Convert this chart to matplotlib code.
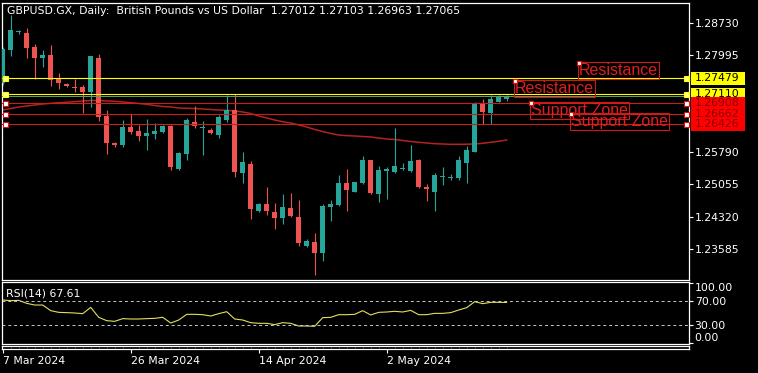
import numpy as np
import matplotlib
matplotlib.use('Agg')
import matplotlib.pyplot as plt
from matplotlib.patches import Rectangle
from matplotlib import transforms

# ---------------- data ----------------
symbol = 'GBPUSD.GX'
period = 'Daily'
description = 'British Pounds vs US Dollar'

date_labels = ['7 Mar 2024', '26 Mar 2024', '14 Apr 2024', '2 May 2024']
date_bars = [0, 16, 32, 48]

opens = [1.27367, 1.28121, 1.28532, 1.28516, 1.28196, 1.27945, 1.28007, 1.27482, 1.27345, 1.27276,
         1.27276, 1.27162, 1.27938, 1.26614, 1.25998, 1.25952, 1.26363, 1.26279, 1.26158, 1.26210,
         1.26249, 1.26386, 1.25398, 1.25747, 1.26477, 1.26340, 1.26295, 1.26181, 1.26523, 1.26751,
         1.25320, 1.25519, 1.24453, 1.24606, 1.24423, 1.24293, 1.24507, 1.24302, 1.23647, 1.23731,
         1.23494, 1.24544, 1.24590, 1.25092, 1.24879, 1.25092, 1.25610, 1.24834, 1.25366, 1.25343,
         1.25398, 1.25366, 1.25610, 1.25000, 1.24886, 1.25215, 1.25192, 1.25206, 1.25548, 1.25799,
         1.26888, 1.26690, 1.26941, 1.27012]
highs = [1.28189, 1.28920, 1.28577, 1.28623, 1.28258, 1.28121, 1.28235, 1.27596, 1.27367, 1.27459,
         1.27322, 1.27984, 1.28030, 1.26751, 1.26021, 1.26523, 1.26660, 1.26409, 1.26539, 1.26448,
         1.26409, 1.26409, 1.25799, 1.26562, 1.26849, 1.26500, 1.26333, 1.26637, 1.27094, 1.27110,
         1.25799, 1.25594, 1.24628, 1.24987, 1.24622, 1.24834, 1.24863, 1.24697, 1.23813, 1.23937,
         1.24606, 1.24697, 1.25267, 1.25398, 1.25108, 1.25708, 1.25610, 1.25473, 1.25443, 1.26347,
         1.25548, 1.25952, 1.25626, 1.25062, 1.25320, 1.25457, 1.25290, 1.25701, 1.25929, 1.26941,
         1.27002, 1.27094, 1.27094, 1.27103]
lows = [1.27322, 1.27984, 1.28486, 1.27938, 1.27459, 1.27733, 1.27299, 1.27231, 1.27276, 1.27162,
        1.26683, 1.26820, 1.26500, 1.25747, 1.25907, 1.25907, 1.26203, 1.26044, 1.25838, 1.26089,
        1.26233, 1.25382, 1.25382, 1.25610, 1.26347, 1.25724, 1.26203, 1.26119, 1.26470, 1.25215,
        1.25092, 1.24263, 1.24430, 1.24354, 1.24028, 1.24149, 1.24302, 1.23647, 1.23631, 1.22985,
        1.23311, 1.24224, 1.24560, 1.24453, 1.24879, 1.25062, 1.24834, 1.24658, 1.24713, 1.25306,
        1.25382, 1.25343, 1.24964, 1.24681, 1.24453, 1.25039, 1.25153, 1.25153, 1.25092, 1.25793,
        1.26432, 1.26432, 1.26941, 1.26963]
closes = [1.28144, 1.28577, 1.28554, 1.28160, 1.27945, 1.28007, 1.27436, 1.27367, 1.27299, 1.27253,
          1.27162, 1.27984, 1.26591, 1.25998, 1.25952, 1.26363, 1.26249, 1.26158, 1.26233, 1.26265,
          1.26393, 1.25443, 1.25777, 1.26523, 1.26386, 1.26356, 1.26219, 1.26598, 1.26751, 1.25343,
          1.25557, 1.24491, 1.24606, 1.24453, 1.24293, 1.24544, 1.24332, 1.23722, 1.23754, 1.23494,
          1.24560, 1.24606, 1.25092, 1.24925, 1.25108, 1.25610, 1.24863, 1.25382, 1.25404, 1.25480,
          1.25420, 1.25587, 1.25000, 1.24941, 1.25267, 1.25245, 1.25229, 1.25610, 1.25838, 1.26888,
          1.26699, 1.27002, 1.27055, 1.27065]

# moving average (red curve)
ma = [1.26751, 1.26785, 1.26820, 1.26842, 1.26865, 1.26888, 1.26904, 1.26918, 1.26927, 1.26941,
      1.26957, 1.26968, 1.26968, 1.26957, 1.26950, 1.26934, 1.26918, 1.26900, 1.26881, 1.26854,
      1.26831, 1.26820, 1.26797, 1.26790, 1.26785, 1.26774, 1.26763, 1.26751, 1.26744, 1.26728,
      1.26706, 1.26671, 1.26614, 1.26569, 1.26523, 1.26484, 1.26454, 1.26409, 1.26363, 1.26306,
      1.26260, 1.26215, 1.26181, 1.26165, 1.26158, 1.26146, 1.26135, 1.26112, 1.26089, 1.26078,
      1.26055, 1.26032, 1.26014, 1.25998, 1.25982, 1.25975, 1.25968, 1.25968, 1.25970, 1.25975,
      1.25991, 1.26014, 1.26037, 1.26066]

rsi = [71.7, 70.6, 71.1, 66.1, 63.3, 63.3, 53.9, 51.1, 50.6, 50.0,
       48.9, 59.4, 42.8, 37.2, 36.1, 40.6, 40.0, 40.0, 40.6, 41.1,
       42.8, 33.3, 38.3, 47.8, 47.8, 47.2, 45.0, 48.9, 52.2, 40.0,
       38.3, 33.9, 32.8, 32.8, 30.6, 33.9, 32.8, 28.3, 28.3, 27.8,
       42.2, 42.8, 47.2, 47.2, 47.8, 53.9, 46.7, 51.1, 51.7, 52.8,
       51.7, 54.4, 47.2, 47.2, 49.4, 49.4, 50.6, 55.0, 58.9, 68.9,
       65.6, 67.8, 67.8, 67.61]
rsi_levels = [70, 30]

price_ticks = [1.28730, 1.27995, 1.25790, 1.25055, 1.24320, 1.23585]
yellow_levels = [1.27479, 1.27110]
red_levels = [1.26908, 1.26662, 1.26426]
bid_level = 1.27065

# text objects: (label, bar, price) anchored at top-left corner
notes = [('Resistance', 72, 1.27817),
         ('Resistance', 64, 1.27413),
         ('Support Zone', 66, 1.26918),
         ('Support Zone', 71, 1.26660)]

# ---------------- style ----------------
BULL = '#26a69a'
BEAR = '#ef5350'
LINE_RED = '#c81e1e'
FS = 7.8
W, H = 758, 373

plt.rcParams['font.family'] = 'DejaVu Sans'

fig = plt.figure(figsize=(W / 100, H / 100), dpi=100, facecolor='black')


def px_box(x0, y0, x1, y1):
    return [x0 / W, 1 - y1 / H, (x1 - x0) / W, (y1 - y0) / H]


ax = fig.add_axes(px_box(2, 2.7, 689, 280))
ax_rsi = fig.add_axes(px_box(2, 282.3, 689, 344))
ax_t = fig.add_axes(px_box(2, 345.5, 689, 348.5))

xlim = (-0.09, 85.79)
for a in (ax, ax_rsi, ax_t):
    a.set_facecolor('black')
    a.set_xlim(*xlim)
    for s in a.spines.values():
        s.set_color('white')
        s.set_linewidth(0.9)

# ---------------- candles ----------------
o = np.array(opens); h = np.array(highs); l = np.array(lows); c = np.array(closes)
x = np.arange(len(o))
cols = np.where(c >= o, BULL, BEAR)
ax.vlines(x, l, h, colors=cols, lw=0.8, zorder=3)
ax.bar(x, np.maximum(np.abs(c - o), 0.00008), bottom=np.minimum(o, c), width=0.62,
       color=cols, linewidth=0, zorder=4)

ax.plot(x, ma, color='#b42222', lw=1.1, zorder=2)

ax.set_ylim(1.22871, 1.29200)
ax.set_xticks([])
ax.yaxis.tick_right()
ax.set_yticks(price_ticks)
ax.set_yticklabels([f'{p:.5f}' for p in price_ticks])
ax.tick_params(axis='y', colors='white', length=2.9, width=0.8, pad=1.2, labelsize=FS)

# horizontal levels
ytr = ax.get_yaxis_transform()
for lv in yellow_levels:
    ax.axhline(lv, color='#ffff00', lw=0.8, zorder=5)
ax.axhline(bid_level, color='#5f9f78', lw=0.7, zorder=5)
for lv in red_levels:
    ax.axhline(lv, color=LINE_RED, lw=0.8, zorder=5)
for lv in yellow_levels:
    ax.plot([0.0044, 0.9952], [lv, lv], 's', ms=3.6, mfc='#ffff99', mec='#ffff00', mew=0.8,
            transform=ytr, zorder=6, clip_on=False)
for lv in red_levels:
    ax.plot([0.0044, 0.9952], [lv, lv], 's', ms=3.6, mfc='white', mec='#e01010', mew=0.8,
            transform=ytr, zorder=6, clip_on=False)

# price labels on the axis
ax_hpx = ax.get_position().height * H
box_h = (1.29200 - 1.22871) / ax_hpx * 13
btr = transforms.blended_transform_factory(fig.transFigure, ax.transData)
z = 10
for lv, fc, tc in [(v, '#ffff00', 'black') for v in yellow_levels] + \
                  [(v, '#ff0000', '#8b0000') for v in red_levels]:
    fig.add_artist(Rectangle((691 / W, lv - box_h / 2), 54 / W, box_h, transform=btr,
                             facecolor=fc, edgecolor='none', zorder=z))
    fig.text(694.5 / W, lv, f'{lv:.5f}', transform=btr, color=tc, fontsize=FS,
             va='center', ha='left', zorder=z + 1)
    z += 2

# text objects
for k, (txt, bx, py) in enumerate(notes):
    ax.text(bx, py, txt, color='#e01e1e', fontsize=11.5, family='Liberation Sans',
            ha='left', va='top', zorder=20 + k, clip_on=False,
            bbox=dict(boxstyle='square,pad=0.06', fc='none', ec='#d01818', lw=0.8))
    ax.plot(bx, py, 's', ms=3.4, mfc='white', mec='#e01010', mew=0.8, zorder=20 + k, clip_on=False)

# title
title = (f'{symbol}, {period}:  {description}  '
         f'{opens[-1]:.5f} {highs[-1]:.5f} {lows[-1]:.5f} {closes[-1]:.5f}')
fig.text(7 / W, 1 - 11.5 / H, title, color='white', fontsize=FS, va='center', ha='left')

# ---------------- RSI ----------------
ax_rsi.plot(x, rsi, color='#e0e060', lw=0.8)
for lv in rsi_levels:
    ax_rsi.axhline(lv, color='#c8c8c8', lw=0.7, dashes=(3, 3))
ax_rsi.set_ylim(-1.7, 101.2)
ax_rsi.set_xticks([])
ax_rsi.yaxis.tick_right()
ax_rsi.set_yticks([0, 30, 70, 100])
ax_rsi.set_yticklabels(['0.00', '30.00', '70.00', '100.00'])
ax_rsi.tick_params(axis='y', colors='white', length=2.9, width=0.8, pad=1.2, labelsize=FS)
lbls = ax_rsi.get_yticklabels()
lbls[0].set_verticalalignment('bottom')
lbls[3].set_verticalalignment('top')
ax_rsi.text(5 / 687, 293.3, f'RSI(14) {rsi[-1]:.2f}', color='white', fontsize=FS,
            va='center', ha='left', transform=ax_rsi.transAxes)
ax_rsi.texts[-1].set_transform(transforms.blended_transform_factory(ax_rsi.transAxes, fig.transFigure))
ax_rsi.texts[-1].set_position((3.5 / 687, 1 - 293.3 / H))

# ---------------- time scale ----------------
ax_t.set_yticks([])
ax_t.set_xticks(date_bars)
ax_t.set_xticklabels(date_labels)
ax_t.set_xticks(x, minor=True)
ax_t.tick_params(axis='x', which='major', colors='white', length=2.9, width=0.8, pad=2.2,
                 labelsize=FS)
ax_t.tick_params(axis='x', which='minor', direction='in', length=1.5, width=0.6, color='#505050')
for t in ax_t.get_xticklabels():
    t.set_horizontalalignment('left')

fig.savefig('out.png', dpi=100, facecolor='black')
